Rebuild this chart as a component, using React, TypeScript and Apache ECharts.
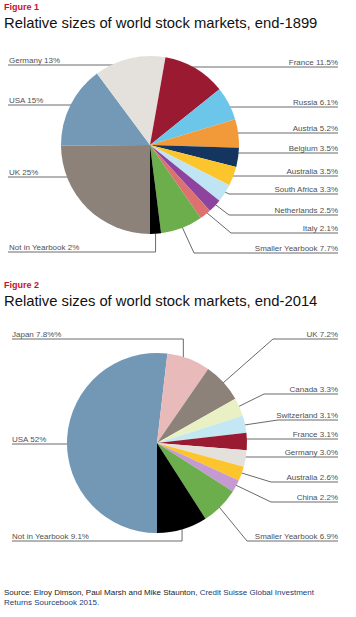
import React, { useEffect, useRef } from 'react';
import * as echarts from 'echarts';

// ---------- Figure 1 (end-1899) ----------
const names1899 = ['UK', 'USA', 'Germany', 'France', 'Russia', 'Austria', 'Belgium', 'Australia', 'South Africa', 'Netherlands', 'Italy', 'Smaller Yearbook', 'Not in Yearbook'];
const values1899 = [25, 15, 13, 11.5, 6.1, 5.2, 3.5, 3.5, 3.3, 2.5, 2.1, 7.7, 2];
const labels1899 = ['UK 25%', 'USA 15%', 'Germany 13%', 'France 11.5%', 'Russia 6.1%', 'Austria 5.2%', 'Belgium 3.5%', 'Australia 3.5%', 'South Africa 3.3%', 'Netherlands 2.5%', 'Italy 2.1%', 'Smaller Yearbook 7.7%', 'Not in Yearbook 2%'];
const colors1899 = ['#8C8279', '#7399B7', '#E4E1DC', '#9A1A32', '#6CC6EA', '#F29A3A', '#13355F', '#FDC52C', '#BFE4F3', '#8C449E', '#DF7070', '#6CAD4C', '#000000'];

// ---------- Figure 2 (end-2014) ----------
const names2014 = ['USA', 'Japan', 'UK', 'Canada', 'Switzerland', 'France', 'Germany', 'Australia', 'China', 'Smaller Yearbook', 'Not in Yearbook'];
const values2014 = [52, 7.8, 7.2, 3.3, 3.1, 3.1, 3.0, 2.6, 2.2, 6.9, 9.1];
const labels2014 = ['USA 52%', 'Japan 7.8%%', 'UK 7.2%', 'Canada 3.3%', 'Switzerland 3.1%', 'France 3.1%', 'Germany 3.0%', 'Australia 2.6%', 'China 2.2%', 'Smaller Yearbook 6.9%', 'Not in Yearbook 9.1%'];
const colors2014 = ['#7398B6', '#E8BABA', '#8C8279', '#E9F1C4', '#C4E7F4', '#9A1A32', '#E4E1DC', '#FDC52C', '#C49AD0', '#6CAD4C', '#000000'];

// Label guide layout: side, underline y, anchor radius fraction, mode (h: horizontal, d: diagonal, v: vertical), elbow x
type Guide = { side: 'L' | 'R'; y: number; k: number; mode: 'h' | 'd' | 'v'; ex?: number };
const guides1899: Guide[] = [
  { side: 'L', y: 177, k: 0.735, mode: 'h' },
  { side: 'L', y: 105, k: 0.78, mode: 'h' },
  { side: 'L', y: 65, k: 0.97, mode: 'h' },
  { side: 'R', y: 67, k: 0.98, mode: 'h' },
  { side: 'R', y: 107, k: 0.885, mode: 'h' },
  { side: 'R', y: 133, k: 0.84, mode: 'h' },
  { side: 'R', y: 153, k: 0.915, mode: 'h' },
  { side: 'R', y: 176, k: 0.96, mode: 'h' },
  { side: 'R', y: 194, k: 0.9, mode: 'd', ex: 229 },
  { side: 'R', y: 215, k: 0.85, mode: 'd', ex: 229 },
  { side: 'R', y: 233, k: 0.87, mode: 'd', ex: 231 },
  { side: 'R', y: 253, k: 0.87, mode: 'd', ex: 194 },
  { side: 'L', y: 252, k: 1.0, mode: 'v' },
];
const guides2014: Guide[] = [
  { side: 'L', y: 444, k: 0.76, mode: 'h' },
  { side: 'L', y: 339, k: 0.83, mode: 'v' },
  { side: 'R', y: 339, k: 0.83, mode: 'd', ex: 273 },
  { side: 'R', y: 394, k: 0.82, mode: 'd', ex: 264 },
  { side: 'R', y: 420, k: 0.86, mode: 'd', ex: 278 },
  { side: 'R', y: 439, k: 0.9, mode: 'h' },
  { side: 'R', y: 457, k: 0.91, mode: 'h' },
  { side: 'R', y: 482, k: 0.83, mode: 'd', ex: 271 },
  { side: 'R', y: 502, k: 0.83, mode: 'd', ex: 271 },
  { side: 'R', y: 541, k: 0.84, mode: 'd', ex: 247 },
  { side: 'L', y: 541, k: 0.99, mode: 'v' },
];

const LABEL_FONT = "'Liberation Sans Narrow', 'Liberation Sans', Arial, sans-serif";
const TITLE_FONT = "'Liberation Sans', Arial, sans-serif";

function makeLayout(values: number[], guides: Guide[], cx: number, cy: number, r: number, lineL: number, textL: number, lineR: number) {
  const total = values.reduce((a, b) => a + b, 0);
  const mids: number[] = [];
  let cum = 0;
  values.forEach((v) => {
    mids.push(Math.PI + ((cum + v / 2) / total) * Math.PI * 2);
    cum += v;
  });
  return (params: any) => {
    const i = params.dataIndex;
    const g = guides[i];
    const th = mids[i];
    let ax: number;
    let ay: number;
    if (g.mode === 'h') {
      const rr = g.k * r;
      const dy = cy - g.y;
      const dx = Math.sqrt(Math.max(rr * rr - dy * dy, 0));
      ax = g.side === 'L' ? cx - dx : cx + dx;
      ay = g.y;
    } else {
      ax = cx + g.k * r * Math.sin(th);
      ay = cy - g.k * r * Math.cos(th);
    }
    const elbowX = g.mode === 'd' ? (g.ex as number) : ax;
    const endX = g.side === 'L' ? lineL : lineR;
    return {
      x: g.side === 'L' ? textL : lineR,
      y: g.y - 1,
      align: g.side === 'L' ? 'left' : 'right',
      verticalAlign: 'bottom',
      labelLinePoints: [
        [ax, ay],
        [elbowX, g.y],
        [endX, g.y],
      ],
    };
  };
}

function pieSeries(names: string[], values: number[], labels: string[], colors: string[], guides: Guide[], cx: number, cy: number, r: number, lineL: number, textL: number, lineR: number) {
  return {
    type: 'pie',
    center: [cx, cy],
    radius: r,
    startAngle: -90,
    clockwise: true,
    avoidLabelOverlap: false,
    silent: true,
    data: names.map((n, i) => ({ name: n, value: values[i], itemStyle: { color: colors[i] } })),
    itemStyle: { borderWidth: 0 },
    label: {
      show: true,
      position: 'outside',
      formatter: (p: any) => labels[p.dataIndex],
      fontSize: 8,
      color: '#505050',
      fontFamily: LABEL_FONT,
      padding: 0,
    },
    labelLine: { show: true, length: 5, length2: 5, lineStyle: { color: '#6a6a6a', width: 1 } },
    labelLayout: makeLayout(values, guides, cx, cy, r, lineL, textL, lineR),
  };
}

export default function App() {
  const ref = useRef<HTMLDivElement>(null);
  useEffect(() => {
    if (!ref.current) return;
    const chart = echarts.init(ref.current, undefined, { renderer: 'svg' });
    const red = '#C8102E';
    const srcStyle = { fontSize: 8, lineHeight: 10, fontWeight: 'normal', fontFamily: TITLE_FONT };
    chart.setOption({
      animation: false,
      backgroundColor: '#ffffff',
      title: [
        { text: 'Figure 1', left: 4, top: 2, padding: 0, textStyle: { color: red, fontSize: 9, fontWeight: 'bold', lineHeight: 10, fontFamily: TITLE_FONT } },
        { text: 'Relative sizes of world stock markets, end-1899', left: 4, top: 15, padding: 0, textStyle: { color: '#111111', fontSize: 14.8, fontWeight: 'normal', lineHeight: 16, fontFamily: TITLE_FONT } },
        { text: 'Figure 2', left: 4, top: 280, padding: 0, textStyle: { color: red, fontSize: 9, fontWeight: 'bold', lineHeight: 10, fontFamily: TITLE_FONT } },
        { text: 'Relative sizes of world stock markets, end-2014', left: 4, top: 293, padding: 0, textStyle: { color: '#111111', fontSize: 14.8, fontWeight: 'normal', lineHeight: 16, fontFamily: TITLE_FONT } },
        {
          text: '{a|Source: Elroy Dimson, Paul Marsh and Mike Staunton, }{b|Credit Suisse Global Investment}\n{b|Returns Sourcebook 2015.}',
          left: 4,
          top: 587,
          padding: 0,
          textStyle: {
            ...srcStyle,
            rich: {
              a: { ...srcStyle, color: '#1a1a1a' },
              b: { ...srcStyle, color: '#1F3A70' },
            },
          },
        },
      ],
      series: [
        pieSeries(names1899, values1899, labels1899, colors1899, guides1899, 150, 145, 89, 8, 9, 338),
        pieSeries(names2014, values2014, labels2014, colors2014, guides2014, 157, 443, 90, 12, 12, 338),
      ],
    });
    return () => chart.dispose();
  }, []);
  return <div ref={ref} style={{ position: 'fixed', left: 0, top: 0, width: 356, height: 617 }} />;
}
